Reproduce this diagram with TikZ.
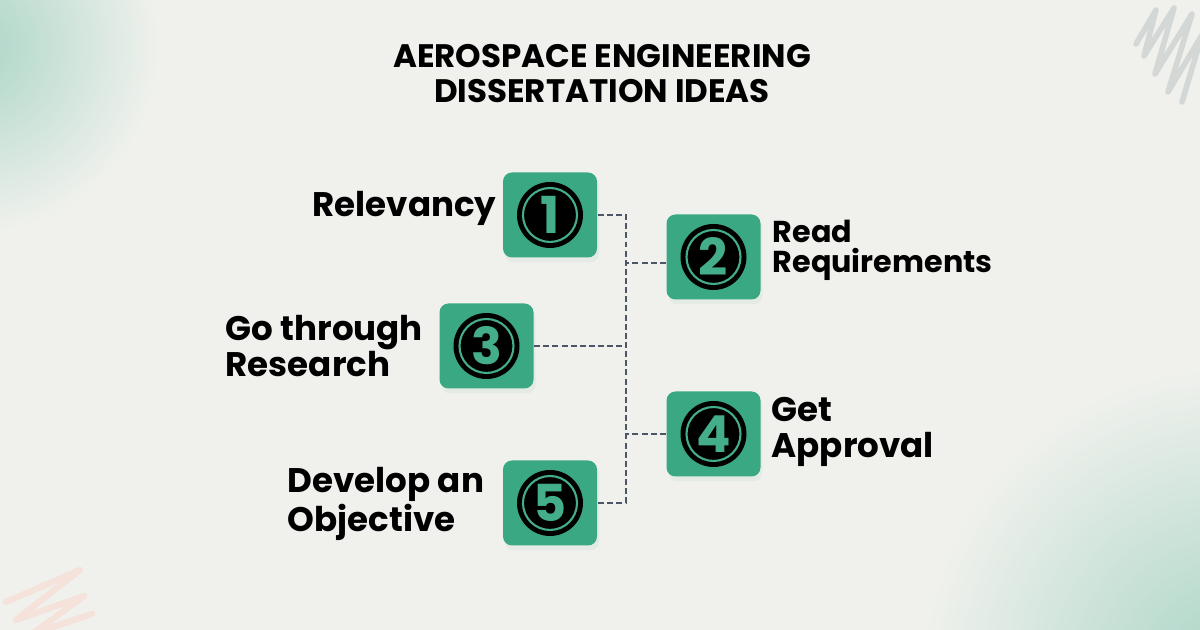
\documentclass[tikz,border=0pt]{standalone}
\usepackage{fontspec}
\setmainfont{Poppins}
\usepackage{tikz}
\usetikzlibrary{positioning,shadows,calc}
\definecolor{bgcol}{RGB}{240,241,237}
\definecolor{boxgreen}{RGB}{58,168,131}
\definecolor{numgreen}{RGB}{68,174,138}
\definecolor{linkgray}{RGB}{76,86,104}
\definecolor{blobgreen}{RGB}{170,213,198}
\definecolor{scribgray}{RGB}{200,205,205}
\definecolor{scribpink}{RGB}{246,220,212}

\begin{document}
\begin{tikzpicture}[
  stepbox/.style={rectangle, rounded corners=0.09cm, fill=boxgreen,
    minimum width=0.94cm, minimum height=0.85cm,
    drop shadow={opacity=0.07, shadow xshift=0.02cm, shadow yshift=-0.05cm, fill=boxgreen!70!gray}},
  num/.style={circle, fill=black, text=numgreen, minimum size=0.66cm, inner sep=0pt,
    font=\bfseries\fontsize{14.5}{14.5}\selectfont,
    path picture={\draw[numgreen, line width=0.6pt] (path picture bounding box.center) circle (0.27cm);}},
  lbl/.style={inner sep=0pt, align=left, font=\bfseries\fontsize{9.7}{10.4}\selectfont},
  link/.style={linkgray, line width=0.6pt, dash pattern=on 1.7pt off 0.9pt}
]
\useasboundingbox (0,0) rectangle (12,6.3);
\begin{scope}
\clip (0,0) rectangle (12,6.3);
\fill[bgcol] (0,0) rectangle (12,6.3);
% soft corners
\shade[inner color=blobgreen, outer color=bgcol] (-0.3,5.85) circle (1.9);
\shade[inner color=blobgreen, outer color=bgcol] (12.3,-0.45) circle (3.1);
% scribbles
\draw[scribgray, line width=1.6pt, line cap=round, line join=round, opacity=0.7]
  (11.36,5.86) -- (11.56,6.2) -- (11.44,5.74) -- (11.74,6.22) -- (11.55,5.56)
  -- (11.92,6.16) -- (11.68,5.38) -- (12.02,5.95) -- (11.82,5.28);
\draw[scribpink, line width=1.8pt, line cap=round, line join=round, opacity=0.7]
  (0.06,0.28) -- (0.8,0.6) -- (0.16,0.1) -- (0.84,0.34) -- (0.32,-0.04) -- (0.92,0.16);
\end{scope}

\node[align=center, inner sep=0pt, anchor=base, font=\bfseries\fontsize{9.25}{10.2}\selectfont]
  (title) at (6.02,5.27) {AEROSPACE ENGINEERING\\DISSERTATION IDEAS};

\node[stepbox] (b1) at (5.50,4.15) {};
\node[stepbox] (b2) at (7.135,3.73) {};
\node[stepbox] (b3) at (4.865,2.84) {};
\node[stepbox] (b4) at (7.135,1.96) {};
\node[stepbox] (b5) at (5.50,1.27) {};

\foreach \i in {1,...,5}
  \node[num] (n\i) at (b\i) {\i};

\coordinate (t1) at (6.26,4.15);
\coordinate (t5) at (6.26,1.27);
\draw[link] (b1.east) -- (t1) -- (t5) -- (b5.east);
\draw[link] ([yshift=-0.06cm]b2.west) -- ([yshift=-0.06cm]b2.west -| t1);
\draw[link] (b3.east) -- (b3.east -| t1);
\draw[link] (b4.west) -- (b4.west -| t1);

\node[lbl, anchor=base east] (l1) at (4.97,4.13) {Relevancy};
\node[lbl, anchor=base west, font=\bfseries\fontsize{8.6}{8.6}\selectfont] (l2) at (7.72,3.57) {Read\\Requirements};
\node[lbl, anchor=base west] (l3) at (2.25,2.53) {Go through\\Research};
\node[lbl, anchor=base west] (l4) at (7.71,1.72) {Get\\Approval};
\node[lbl, anchor=base west, font=\bfseries\fontsize{9.7}{9.1}\selectfont] (l5) at (2.87,0.98) {Develop an\\Objective};
\end{tikzpicture}
\end{document}
